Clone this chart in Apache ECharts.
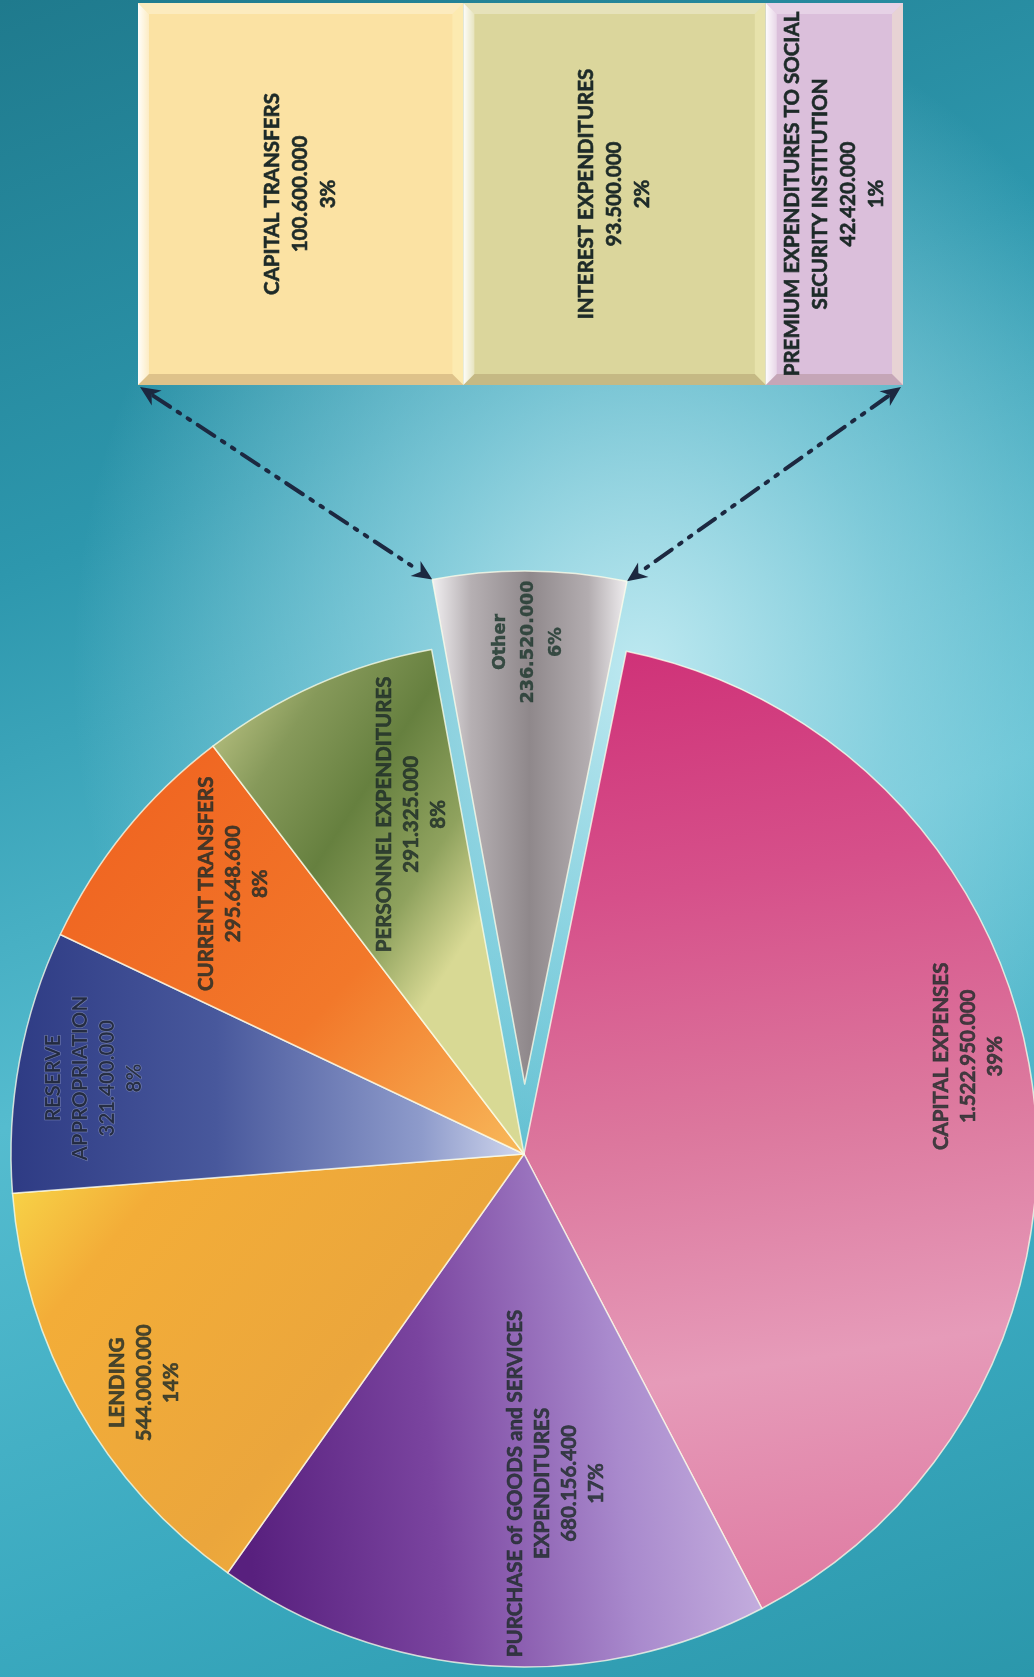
<!DOCTYPE html>
<html>
<head>
<meta charset="utf-8">
<title>Expenditures by Type</title>
<script src="https://cdn.jsdelivr.net/npm/echarts@6/dist/echarts.min.js"></script>
<style>
  html, body { margin: 0; padding: 0; width: 1034px; height: 1677px; overflow: hidden; }
  body {
    background:
      radial-gradient(ellipse 55% 40% at 62% 40%, rgba(196,236,243,0.95) 0%, rgba(160,220,232,0.65) 45%, rgba(160,220,232,0) 100%),
      linear-gradient(160deg, #1f7a8d 0%, #2d97ad 28%, #55bccf 55%, #3aa9bf 80%, #2b97ab 100%);
  }
  #chart { width: 1034px; height: 1677px; }
</style>
</head>
<body>
<div id="chart"></div>
<script>
// Expenditures by type (amounts in local currency)
const categories = [
  'CAPITAL EXPENSES',
  'PURCHASE of GOODS and SERVICES\nEXPENDITURES',
  'LENDING',
  'RESERVE\nAPPROPRIATION',
  'CURRENT TRANSFERS',
  'PERSONNEL EXPENDITURES',
  'Other'
];
const amounts = [1522950000, 680156400, 544000000, 321400000, 295648600, 291325000, 236520000];

// Breakdown of the "Other" group
const otherCategories = [
  'CAPITAL TRANSFERS',
  'INTEREST EXPENDITURES',
  'PREMIUM EXPENDITURES TO SOCIAL\nSECURITY INSTITUTION'
];
const otherAmounts = [100600000, 93500000, 42420000];

// ---- layout ----
const PIE_CENTER = [524, 1154];
const PIE_R = 513;
const START_ANGLE = 78.5;      // echarts degrees (counter-clockwise from 3 o'clock)
const EXPLODE = 70;
const OTHER_INDEX = 6;
// label anchor per slice: [angle clockwise from 12 o'clock, distance from slice centre in px]
const labelPolar = [[77.6, 455], [174.5, 331], [238.9, 443], [280.0, 437], [312.9, 397], [341.6, 358], [0.5, 442]];

const sliceFills = [
  { type: 'linear', x: 0.2, y: 0, x2: 0.5, y2: 1, colorStops: [
    { offset: 0, color: '#cf3278' }, { offset: 0.25, color: '#d6508a' },
    { offset: 0.5, color: '#dc779d' }, { offset: 0.75, color: '#e69bb9' }, { offset: 1, color: '#df7ba2' }] },
  { type: 'linear', x: 0, y: 0.3, x2: 1, y2: 0.2, colorStops: [
    { offset: 0, color: '#58207e' }, { offset: 0.35, color: '#7a449f' },
    { offset: 0.7, color: '#a98acd' }, { offset: 1, color: '#cab6e2' }] },
  { type: 'linear', x: 0, y: 0, x2: 1, y2: 1, colorStops: [
    { offset: 0, color: '#f8da4a' }, { offset: 0.2, color: '#f3ad38' },
    { offset: 0.6, color: '#eba63c' }, { offset: 0.85, color: '#f4b23a' }, { offset: 1, color: '#f9df4c' }] },
  { type: 'linear', x: 0, y: 0.5, x2: 1, y2: 0.5, colorStops: [
    { offset: 0, color: '#2e3b84' }, { offset: 0.4, color: '#48589c' },
    { offset: 0.8, color: '#8e9bcb' }, { offset: 1, color: '#d2d8ee' }] },
  { type: 'linear', x: 0, y: 0, x2: 1, y2: 1, colorStops: [
    { offset: 0, color: '#ef601f' }, { offset: 0.6, color: '#f2782a' }, { offset: 1, color: '#f8b95a' }] },
  { type: 'linear', x: 0, y: 0, x2: 1, y2: 0.4, colorStops: [
    { offset: 0, color: '#cfd393' }, { offset: 0.3, color: '#86995a' },
    { offset: 0.55, color: '#66803f' }, { offset: 0.8, color: '#8fa25e' }, { offset: 1, color: '#d8d994' }] },
  { type: 'linear', x: 0, y: 0, x2: 1, y2: 0, colorStops: [
    { offset: 0, color: '#f2f0f2' }, { offset: 0.2, color: '#b6b0b3' },
    { offset: 0.5, color: '#8f888b' }, { offset: 0.8, color: '#b3adb0' }, { offset: 1, color: '#f0eef0' }] }
];
const boxFills = ['#fbe2a3', '#dbd69c', '#dbbfdb'];

const TEXT_COLOR = '#1d2a28';
const LABEL_FONT = {
  fontFamily: 'Lato', fontWeight: 'bold', fontSize: 20.5, lineHeight: 27,
  textBorderColor: TEXT_COLOR, textBorderWidth: 0.6
};

function dotted(v) {
  return String(v).replace(/\B(?=(\d{3})+(?!\d))/g, '.');
}
// whole-number shares that add up to 100 (largest remainder)
function roundedPercents(vals) {
  const sum = vals.reduce((a, b) => a + b, 0);
  const raw = vals.map(v => v / sum * 100);
  const out = raw.map(Math.floor);
  const left = 100 - out.reduce((a, b) => a + b, 0);
  const order = raw.map((r, i) => [r - out[i], i]).sort((a, b) => b[0] - a[0]);
  for (let k = 0; k < left; k++) out[order[k][1]]++;
  return out;
}
const rad = d => d * Math.PI / 180;
const total = amounts.reduce((a, b) => a + b, 0);
const otherTotal = otherAmounts.reduce((a, b) => a + b, 0);
const shares = roundedPercents(amounts);

// slice angles measured clockwise from 12 o'clock
const theta0 = 90 - START_ANGLE;
function sliceRange(i) {
  let before = 0;
  for (let k = 0; k < i; k++) before += amounts[k];
  const a = theta0 + before / total * 360;
  return [a, a + amounts[i] / total * 360];
}
const oRange = sliceRange(OTHER_INDEX);
const oMid = rad((oRange[0] + oRange[1]) / 2);
const OTHER_CENTER = [PIE_CENTER[0] + EXPLODE * Math.sin(oMid), PIE_CENTER[1] - EXPLODE * Math.cos(oMid)];

const boxData = [];
let acc = 0;
otherAmounts.forEach((v, i) => { boxData.push([acc, acc + v, i]); acc += v; });

function sliceLabel(i) {
  const item = {
    value: [labelPolar[i][1], labelPolar[i][0]],
    label: { formatter: categories[i] + '\n' + dotted(amounts[i]) + '\n' + shares[i] + '%' }
  };
  if (i === 3) {
    Object.assign(item.label, { color: '#1e2430', textBorderColor: 'rgba(190,198,225,0.6)', textBorderWidth: 1 });
  }
  if (i === OTHER_INDEX) {
    Object.assign(item.label, {
      fontFamily: 'DejaVu Sans', fontWeight: 'bold', fontSize: 17.5, lineHeight: 28,
      color: '#1b362c', textBorderColor: '#1b362c', textBorderWidth: 0.4
    });
  }
  return item;
}
const labelSeriesBase = {
  type: 'scatter',
  coordinateSystem: 'polar',
  symbolSize: 2,
  itemStyle: { color: 'rgba(0,0,0,0)' },
  silent: true,
  z: 5,
  label: Object.assign({
    show: true, position: 'inside', rotate: 90,
    align: 'center', verticalAlign: 'middle', color: TEXT_COLOR
  }, LABEL_FONT)
};

const hiddenAngle = { type: 'value', min: 0, max: 360, startAngle: 90, clockwise: true, show: false };
const hiddenRadius = { type: 'value', min: 0, max: PIE_R, show: false };

const chart = echarts.init(document.getElementById('chart'), null, { renderer: 'canvas' });

const option = {
  animation: false,
  grid: { left: 138, top: 3, width: 765, height: 382 },
  xAxis: { type: 'value', min: 0, max: otherTotal, show: false },
  yAxis: { type: 'value', min: 0, max: 1, show: false },
  polar: [
    { center: PIE_CENTER, radius: PIE_R },
    { center: OTHER_CENTER, radius: PIE_R }
  ],
  angleAxis: [Object.assign({ polarIndex: 0 }, hiddenAngle), Object.assign({ polarIndex: 1 }, hiddenAngle)],
  radiusAxis: [Object.assign({ polarIndex: 0 }, hiddenRadius), Object.assign({ polarIndex: 1 }, hiddenRadius)],
  series: [
    {
      type: 'pie',
      center: PIE_CENTER,
      radius: [0, PIE_R],
      startAngle: START_ANGLE,
      clockwise: true,
      selectedMode: 'single',
      selectedOffset: EXPLODE,
      emphasis: { disabled: true },
      itemStyle: { borderColor: 'rgba(255,255,235,0.75)', borderWidth: 1.5 },
      label: { show: false },
      labelLine: { show: false },
      data: categories.map((name, i) => ({
        name: name,
        value: amounts[i],
        selected: i === OTHER_INDEX,
        itemStyle: { color: sliceFills[i] },
        select: { itemStyle: { color: sliceFills[i] } }
      }))
    },
    Object.assign({ polarIndex: 0, data: [0, 1, 2, 3, 4, 5].map(sliceLabel) }, labelSeriesBase),
    Object.assign({ polarIndex: 1, data: [sliceLabel(OTHER_INDEX)] }, labelSeriesBase),
    {
      type: 'custom',
      coordinateSystem: 'cartesian2d',
      data: boxData,
      renderItem: function (params, api) {
        const i = api.value(2);
        const p0 = api.coord([api.value(0), 1]);
        const p1 = api.coord([api.value(1), 0]);
        const x0 = p0[0], y0 = p0[1], x1 = p1[0], y1 = p1[1];
        const b = 11;
        const pct = Math.round(otherAmounts[i] / total * 100);
        return {
          type: 'group',
          children: [
            { type: 'rect', shape: { x: x0, y: y0, width: x1 - x0, height: y1 - y0 }, style: { fill: boxFills[i] } },
            { type: 'polygon', shape: { points: [[x0, y0], [x1, y0], [x1 - b, y0 + b], [x0 + b, y0 + b]] },
              style: { fill: 'rgba(255,255,255,0.3)' } },
            { type: 'polygon', shape: { points: [[x0, y0], [x0 + b, y0 + b], [x0 + b, y1 - b], [x0, y1]] },
              style: { fill: { type: 'linear', x: 0, y: 0, x2: 1, y2: 0, colorStops: [
                { offset: 0, color: 'rgba(255,255,255,0.95)' }, { offset: 1, color: 'rgba(255,255,255,0.35)' }] } } },
            { type: 'polygon', shape: { points: [[x1, y0], [x1, y1], [x1 - b, y1 - b], [x1 - b, y0 + b]] },
              style: { fill: 'rgba(255,250,200,0.35)' } },
            { type: 'polygon', shape: { points: [[x0, y1], [x0 + b, y1 - b], [x1 - b, y1 - b], [x1, y1]] },
              style: { fill: 'rgba(110,70,40,0.2)' } },
            { type: 'text', x: (x0 + x1) / 2, y: (y0 + y1) / 2, rotation: Math.PI / 2,
              style: {
                text: otherCategories[i] + '\n' + dotted(otherAmounts[i]) + '\n' + pct + '%',
                align: 'center', verticalAlign: 'middle',
                fill: TEXT_COLOR,
                stroke: TEXT_COLOR,
                lineWidth: 0.6,
                font: 'bold 20.5px Lato',
                lineHeight: 28
              } }
          ]
        };
      }
    }
  ]
};
chart.setOption(option);

// dash-dot connectors between the exploded slice and the breakdown boxes
function arrowHead(tip, from) {
  const ang = Math.atan2(tip[1] - from[1], tip[0] - from[0]);
  const L = 20, W = 9, N = 6;
  const ux = Math.cos(ang), uy = Math.sin(ang);
  const px = -uy, py = ux;
  const back = [tip[0] - ux * L, tip[1] - uy * L];
  return {
    type: 'polygon',
    shape: { points: [tip, [back[0] + px * W, back[1] + py * W], [tip[0] - ux * (L - N), tip[1] - uy * (L - N)], [back[0] - px * W, back[1] - py * W]] },
    style: { fill: '#1c2840' }
  };
}
function connector(a, b) {
  const d = Math.hypot(b[0] - a[0], b[1] - a[1]);
  const ux = (b[0] - a[0]) / d, uy = (b[1] - a[1]) / d;
  const s = [a[0] + ux * 16, a[1] + uy * 16], e = [b[0] - ux * 16, b[1] - uy * 16];
  return [
    { type: 'line', shape: { x1: s[0], y1: s[1], x2: e[0], y2: e[1] },
      style: { stroke: '#1c2840', lineWidth: 4, lineDash: [20, 9, 3, 9, 3, 9], lineCap: 'round' } },
    arrowHead(a, b),
    arrowHead(b, a)
  ];
}
const boxLeft = chart.convertToPixel({ gridIndex: 0 }, [0, 0]);
const boxRight = chart.convertToPixel({ gridIndex: 0 }, [otherTotal, 0]);
const cornerL = [OTHER_CENTER[0] + PIE_R * Math.sin(rad(oRange[0])), OTHER_CENTER[1] - PIE_R * Math.cos(rad(oRange[0]))];
const cornerR = [OTHER_CENTER[0] + PIE_R * Math.sin(rad(oRange[1])), OTHER_CENTER[1] - PIE_R * Math.cos(rad(oRange[1]))];
chart.setOption({
  graphic: [].concat(connector([boxLeft[0] + 2, boxLeft[1] + 2], cornerL), connector([boxRight[0] - 2, boxRight[1] + 2], cornerR))
});
</script>
</body>
</html>
